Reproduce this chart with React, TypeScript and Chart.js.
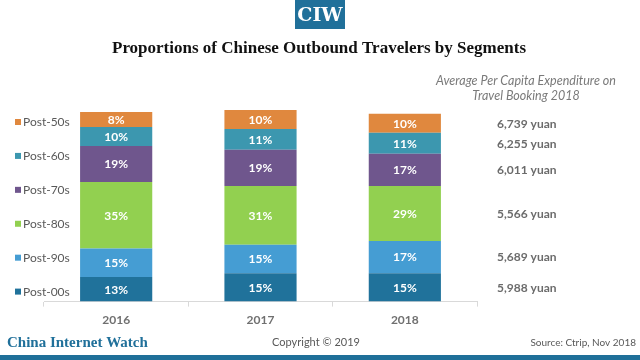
import React, { useEffect, useRef } from "react";
import { Chart, registerables } from "chart.js";

Chart.register(...registerables);

const years = ["2016", "2017", "2018"];
const segments = ["Post-00s", "Post-90s", "Post-80s", "Post-70s", "Post-60s", "Post-50s"];
const post00s = [13, 15, 15];
const post90s = [15, 15, 17];
const post80s = [35, 31, 29];
const post70s = [19, 19, 17];
const post60s = [10, 11, 11];
const post50s = [8, 10, 10];
const expenditure = ["5,988 yuan", "5,689 yuan", "5,566 yuan", "6,011 yuan", "6,255 yuan", "6,739 yuan"];
const segmentColors = ["#20729b", "#459dd3", "#92d050", "#6f568d", "#3c97af", "#e0883e"];

const seriesValues = [post00s, post90s, post80s, post70s, post60s, post50s];

const BLUE = "#20709a";
const GRAY = "#595959";

const overlayPlugin = {
  id: "overlay",
  afterDatasetsDraw(chart: any) {
    const ctx = chart.ctx;
    ctx.save();
    const area = chart.chartArea;
    const n = chart.data.datasets.length;
    const legTop = area.top + 12;
    const legBottom = area.bottom - 10;
    chart.data.datasets.forEach((ds: any, di: number) => {
      const meta = chart.getDatasetMeta(di);
      meta.data.forEach((el: any, i: number) => {
        const v = ds.data[i];
        const y = (el.y + el.base) / 2;
        ctx.fillStyle = "#ffffff";
        ctx.font = "bold 12px Lato";
        ctx.textAlign = "center";
        ctx.textBaseline = "middle";
        ctx.fillText(v + "%", el.x, y + 0.5);
      });
      // legend (evenly spaced, bottom = first dataset)
      const ly = legBottom - (di * (legBottom - legTop)) / (n - 1);
      ctx.fillStyle = ds.backgroundColor;
      ctx.fillRect(15, ly - 3, 6, 6);
      ctx.fillStyle = GRAY;
      ctx.font = "12px Lato";
      ctx.textAlign = "left";
      ctx.textBaseline = "middle";
      ctx.fillText(ds.label, 23, ly + 0.5);
      // expenditure, aligned to 2018 segment
      const e2 = meta.data[2];
      const y2 = (e2.y + e2.base) / 2;
      ctx.font = "bold 12px Lato";
      ctx.fillStyle = "#6b6b6b";
      ctx.fillText(expenditure[di], 497, y2 + 0.5);
    });
    ctx.restore();
  },
  afterDraw(chart: any) {
    const ctx = chart.ctx;
    ctx.save();
    ctx.fillStyle = BLUE;
    ctx.fillRect(295, 0, 50, 29);
    ctx.fillStyle = "#ffffff";
    ctx.font = "bold 19px 'DejaVu Serif'";
    ctx.textAlign = "center";
    ctx.textBaseline = "middle";
    ctx.fillText("CIW", 320, 16);
    ctx.fillStyle = "#111111";
    ctx.font = "bold 17px 'Liberation Serif'";
    ctx.fillText("Proportions of Chinese Outbound Travelers by Segments", 319, 49);
    ctx.fillStyle = "#7a7a7a";
    ctx.font = "italic 12.5px Lato";
    ctx.fillText("Average Per Capita Expenditure on", 526, 81);
    ctx.fillText("Travel Booking 2018", 526, 96);
    ctx.fillStyle = BLUE;
    ctx.font = "bold 15px 'Liberation Serif'";
    ctx.textAlign = "left";
    ctx.fillText("China Internet Watch", 7, 343);
    ctx.fillStyle = GRAY;
    ctx.font = "11px Lato";
    ctx.textAlign = "center";
    ctx.fillText("Copyright \u00a9 2019", 316, 342);
    ctx.font = "10px Lato";
    ctx.textAlign = "right";
    ctx.fillText("Source: Ctrip, Nov 2018", 636, 343);
    ctx.fillStyle = "#1f7099";
    ctx.fillRect(0, 355, 640, 5);
    ctx.restore();
  },
};

export default function App() {
  const ref = useRef<HTMLCanvasElement | null>(null);
  useEffect(() => {
    if (!ref.current) return;
    const chart = new Chart(ref.current, {
      type: "bar",
      data: {
        labels: years,
        datasets: segments.map((s, i) => ({
          label: s,
          data: seriesValues[i],
          backgroundColor: segmentColors[i],
          borderWidth: 0,
          barPercentage: 0.5,
          categoryPercentage: 1,
        })),
      },
      options: {
        responsive: false,
        animation: false,
        layout: { padding: { left: 44, right: 163, top: 110, bottom: 27 } },
        plugins: { legend: { display: false }, tooltip: { enabled: false }, title: { display: false } },
        scales: {
          x: {
            stacked: true,
            grid: { drawOnChartArea: false, drawTicks: true, tickLength: 5, color: "#d9d9d9", offset: true },
            border: { color: "#d9d9d9" },
            ticks: { color: "#707070", font: { family: "Lato", size: 12, weight: "bold" }, padding: 6 },
          },
          y: { stacked: true, display: false, min: 0, max: 101 },
        },
      },
      plugins: [overlayPlugin],
    });
    return () => chart.destroy();
  }, []);
  return (
    <div style={{ position: "absolute", left: 0, top: 0, width: 640, height: 360, background: "#fff" }}>
      <canvas ref={ref} width={640} height={360} style={{ width: 640, height: 360 }} />
    </div>
  );
}
